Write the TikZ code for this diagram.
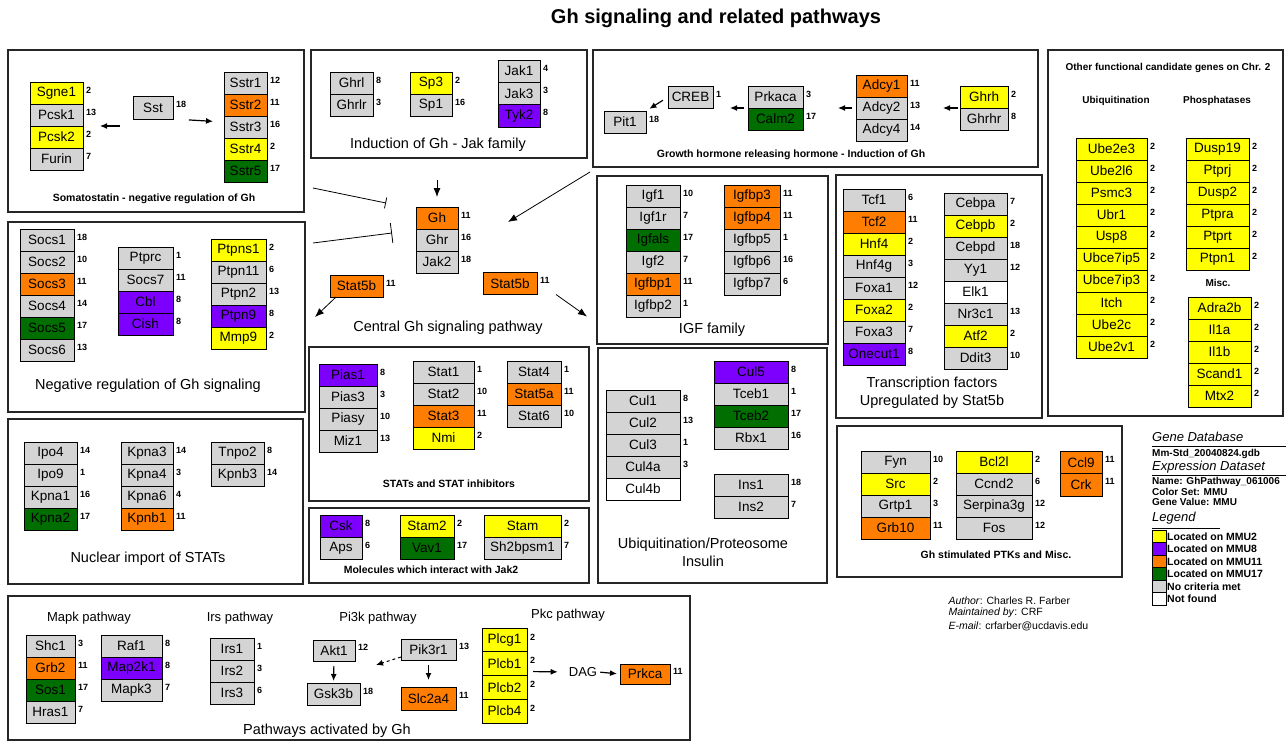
\documentclass[tikz,border=0pt]{standalone}
\usepackage{fontspec}
\setmainfont{Liberation Sans}
\usetikzlibrary{arrows.meta}
\definecolor{cGry}{RGB}{212,212,212}
\definecolor{cYel}{RGB}{255,255,0}
\definecolor{cPur}{RGB}{125,0,255}
\definecolor{cOra}{RGB}{255,125,0}
\definecolor{cGrn}{RGB}{0,110,0}
\definecolor{cWht}{RGB}{255,255,255}
\newcommand{\genestack}[5][22]{%
	\foreach \g/\c/\n [count=\i from 0] in {#5}
		\node[gene=\c, minimum width=#4, minimum height=#1, label={[chr]east:\n}]
			(\g) at (#2, #3+#1/2+#1*\i) {\g};%
}

\begin{document}
\begin{tikzpicture}[x=1pt, y=-1pt,
	gene/.style={draw, fill=#1, line width=0.8pt, inner sep=0pt, outer sep=0pt,
		font=\fontsize{13.5}{14}\selectfont},
	chr/.style={font=\fontsize{9}{10}\selectfont\bfseries, inner sep=1pt, xshift=2pt, yshift=3pt},
	frame/.style={draw=black!85, line width=1.2pt},
	captext/.style={font=\fontsize{14.5}{18}\selectfont},
	scaptext/.style={font=\fontsize{10.5}{12}\selectfont\bfseries},
	hdr/.style={font=\fontsize{10}{11}\selectfont\bfseries},
	lgd/.style={font=\fontsize{10}{10}\selectfont\bfseries, inner sep=1pt, anchor=west},
	arr/.style={-{Latex[length=7pt,width=6pt]}, line width=1.2pt},
	bigarr/.style={-{Latex[length=9pt,width=7pt]}, line width=0.8pt},
	inh/.style={line width=0.8pt}]
	\useasboundingbox (0,0) rectangle (1286,742);
	\node[font=\fontsize{20}{22}\selectfont\bfseries] (title) at (716,18) {Gh signaling and related pathways};

	% somatostatin
	\draw[frame] (8,50) rectangle (304,212);
	\genestack{56.5}{82}{53}{Sgne1/cYel/2, Pcsk1/cGry/13, Pcsk2/cYel/2, Furin/cGry/7}
	\genestack[23]{153}{96}{40}{Sst/cGry/18}
	\genestack{245.5}{72}{43}{Sstr1/cGry/12, Sstr2/cOra/11, Sstr3/cGry/16, Sstr4/cYel/2, Sstr5/cGrn/17}
	\draw[arr, shorten <=13pt, shorten >=17pt] (Sst.west |- Pcsk1.south) -- (Pcsk1.south east);
	\draw[arr, shorten <=16pt, shorten >=11pt] (Sst.south east) -- ([yshift=5pt]Sstr3.west);
	\node[scaptext] (capSom) at (154,199) {Somatostatin - negative regulation of Gh};

	% jak family
	\draw[frame] (311,50) rectangle (587,158);
	\genestack{351.5}{72}{43}{Ghrl/cGry/8, Ghrlr/cGry/3}
	\genestack{431}{72}{42}{Sp3/cYel/2, Sp1/cGry/16}
	\genestack[22.3]{519}{60}{42}{Jak1/cGry/4, Jak3/cGry/3, Tyk2/cPur/8}
	\node[captext] (capJak) at (438,145) {Induction of Gh - Jak family};

	% ghrh
	\draw[frame] (593,50) rectangle (1038,167);
	\genestack{625}{111}{42}{Pit1/cGry/18}
	\genestack{690.5}{86}{45}{CREB/cGry/1}
	\genestack{775.5}{86}{55}{Prkaca/cGry/3, Calm2/cGrn/17}
	\genestack{881.5}{75}{51}{Adcy1/cOra/11, Adcy2/cGry/13, Adcy4/cGry/14}
	\genestack{984}{86}{48}{Ghrh/cYel/2, Ghrhr/cGry/8}
	\draw[arr, shorten <=6pt, shorten >=4pt] (CREB.west) -- (Pit1.north east);
	\draw[arr, shorten <=4pt, shorten >=17pt] (Prkaca.south west) -- (CREB.south east);
	\draw[arr, shorten <=4pt, shorten >=35pt] (Adcy2.west) -- (Prkaca.south east);
	\draw[arr, shorten <=2pt, shorten >=36pt] (Ghrhr.north west) -- (Adcy2.east);
	\node[scaptext] (capGhrh) at (791,155) {Growth hormone releasing hormone - Induction of Gh};

	% chr 2 candidates
	\draw[frame] (1048,50) rectangle (1283,416);
	\node[hdr] (hdrChr) at (1168,68) {Other functional candidate genes on Chr. 2};
	\node[hdr] (hdrUbi) at (1116,101) {Ubiquitination};
	\node[hdr] (hdrPho) at (1217,101) {Phosphatases};
	\node[hdr] (hdrMis) at (1218,283) {Misc.};
	\genestack{1111.5}{138}{71}{Ube2e3/cYel/2, Ube2l6/cYel/2, Psmc3/cYel/2, Ubr1/cYel/2, Usp8/cYel/2,
		Ubce7ip5/cYel/2, Ubce7ip3/cYel/2, Itch/cYel/2, Ube2c/cYel/2, Ube2v1/cYel/2}
	\genestack{1217.5}{138}{63}{Dusp19/cYel/2, Ptprj/cYel/2, Dusp2/cYel/2, Ptpra/cYel/2, Ptprt/cYel/2, Ptpn1/cYel/2}
	\genestack{1219.5}{297}{63}{Adra2b/cYel/2, Il1a/cYel/2, Il1b/cYel/2, Scand1/cYel/2, Mtx2/cYel/2}

	% negative regulation
	\draw[frame] (8,222) rectangle (305,412);
	\genestack{47}{229}{54}{Socs1/cGry/18, Socs2/cGry/10, Socs3/cOra/11, Socs4/cGry/14, Socs5/cGrn/17, Socs6/cGry/13}
	\genestack{145.5}{247}{55}{Ptprc/cGry/1, Socs7/cGry/11, Cbl/cPur/8, Cish/cPur/8}
	\genestack{238.5}{239}{55}{Ptpns1/cYel/2, Ptpn11/cGry/6, Ptpn2/cGry/13, Ptpn9/cPur/8, Mmp9/cYel/2}
	\node[captext] (capNeg) at (148,386) {Negative regulation of Gh signaling};

	% central pathway
	\genestack{437}{207}{42}{Gh/cOra/11, Ghr/cGry/16, Jak2/cGry/18}
	\node[gene=cOra, minimum width=53, minimum height=22, label={[chr]east:11}] (stat5bL) at (356.5,286) {Stat5b};
	\node[gene=cOra, minimum width=54, minimum height=22, label={[chr]east:11}] (stat5bR) at (510,283.5) {Stat5b};
	\coordinate (jakOut) at (437,180);
	\coordinate (somOut) at (313,188);
	\coordinate (negOut) at (313,243);
	\coordinate (ghrhOut) at (590,172);
	\draw[bigarr] (jakOut) -- ([yshift=10pt]Gh.north);
	\draw[inh, -{Bar[width=11pt]}] (somOut) -- ([xshift=-30pt, yshift=15pt]Gh.west);
	\draw[inh, -{Bar[width=20pt]}] (negOut) -- ([xshift=-24pt, yshift=7pt]Ghr.west);
	\draw[bigarr] (ghrhOut) -- ([xshift=50pt, yshift=-4pt]Gh.east);
	\draw[bigarr] ([xshift=6pt]stat5bL.south west) -- ++(-21,20);
	\draw[bigarr] ([xshift=19pt]stat5bR.south east) -- ++(31,22);
	\node[captext] (capCen) at (448,328) {Central Gh signaling pathway};

	% igf family
	\draw[frame] (597,176) rectangle (828,344);
	\genestack{653}{185}{54}{Igf1/cGry/10, Igf1r/cGry/7, Igfals/cGrn/17, Igf2/cGry/7, Igfbp1/cOra/11, Igfbp2/cGry/1}
	\genestack{752}{185}{56}{Igfbp3/cOra/11, Igfbp4/cOra/11, Igfbp5/cGry/1, Igfbp6/cGry/16, Igfbp7/cGry/6}
	\node[captext] (capIgf) at (712,330) {IGF family};

	% transcription factors
	\draw[frame] (836,175) rectangle (1042,418);
	\genestack{874}{189}{62}{Tcf1/cGry/6, Tcf2/cOra/11, Hnf4/cYel/2, Hnf4g/cGry/3, Foxa1/cGry/12, Foxa2/cYel/2, Foxa3/cGry/7, Onecut1/cPur/8}
	\genestack{975.5}{193}{63}{Cebpa/cGry/7, Cebpb/cYel/2, Cebpd/cGry/18, Yy1/cGry/12, Elk1/cWht/, Nr3c1/cGry/13, Atf2/cYel/2, Ddit3/cGry/10}
	\node[captext, align=center] (capTf) at (932,393) {Transcription factors\\Upregulated by Stat5b};

	% stats
	\draw[frame] (309,347) rectangle (589,501);
	\genestack{348}{364}{58}{Pias1/cPur/8, Pias3/cGry/3, Piasy/cGry/10, Miz1/cGry/13}
	\genestack{443.5}{361}{61}{Stat1/cGry/1, Stat2/cGry/10, Stat3/cOra/11, Nmi/cYel/2}
	\genestack{534}{361}{54}{Stat4/cGry/1, Stat5a/cOra/11, Stat6/cGry/10}
	\node[scaptext] (capStat) at (449,484) {STATs and STAT inhibitors};

	% jak2 partners
	\draw[frame] (309,508) rectangle (589,583);
	\genestack{341}{515}{42}{Csk/cPur/8, Aps/cGry/6}
	\genestack{427}{515}{54}{Stam2/cYel/2, Vav1/cGrn/17}
	\genestack{522.5}{515}{77}{Stam/cYel/2, Sh2bpsm1/cGry/7}
	\node[scaptext] (capMol) at (431,570) {Molecules which interact with Jak2};

	% nuclear import
	\draw[frame] (8,419) rectangle (303,584);
	\genestack{50.5}{442}{53}{Ipo4/cGry/14, Ipo9/cGry/1, Kpna1/cGry/16, Kpna2/cGrn/17}
	\genestack{147}{442}{52}{Kpna3/cGry/14, Kpna4/cGry/3, Kpna6/cGry/4, Kpnb1/cOra/11}
	\genestack{237.5}{442}{53}{Tnpo2/cGry/8, Kpnb3/cGry/14}
	\node[captext] (capNuc) at (148,559) {Nuclear import of STATs};

	% ubiquitination
	\draw[frame] (598,348) rectangle (827,583);
	\genestack{643}{390}{74}{Cul1/cGry/8, Cul2/cGry/13, Cul3/cGry/1, Cul4a/cGry/3, Cul4b/cWht/}
	\genestack{751}{361}{74}{Cul5/cPur/8, Tceb1/cGry/1, Tceb2/cGrn/17, Rbx1/cGry/16}
	\genestack{751}{474}{74}{Ins1/cGry/18, Ins2/cGry/7}
	\node[captext, align=center] (capUbi) at (703,552) {Ubiquitination/Proteosome\\Insulin};

	% ptk
	\draw[frame] (837,426) rectangle (1122,577);
	\genestack{895.5}{451}{69}{Fyn/cGry/10, Src/cYel/2, Grtp1/cGry/3, Grb10/cOra/11}
	\genestack{994}{451}{76}{Bcl2l/cYel/2, Ccnd2/cGry/6, Serpina3g/cGry/12, Fos/cGry/12}
	\genestack[22.5]{1081}{451}{42}{Ccl9/cOra/11, Crk/cOra/11}
	\node[scaptext] (capPtk) at (996,555) {Gh stimulated PTKs and Misc.};

	% author
	\node[anchor=west, font=\fontsize{10.5}{12}\selectfont] (auth) at (945,601) {\textit{Author}: Charles R. Farber};
	\node[anchor=west, font=\fontsize{10.5}{12}\selectfont] (maint) at (945,613) {\textit{Maintained by}: CRF};
	\node[anchor=west, font=\fontsize{10.5}{12}\selectfont] (mail) at (945,626) {\textit{E-mail}: crfarber@ucdavis.edu};

	% legend
	\node[anchor=west, inner sep=1pt, font=\fontsize{13}{14}\selectfont\itshape] (gdb) at (1151,437) {Gene Database};
	\draw[line width=0.8pt] (1152,446) -- (1286,446);
	\node[lgd] (gdbName) at (1151,454) {Mm-Std\_20040824.gdb};
	\node[anchor=west, inner sep=1pt, font=\fontsize{13}{14}\selectfont\itshape] (eds) at (1151,467) {Expression Dataset};
	\draw[line width=0.8pt] (1152,475) -- (1286,475);
	\node[lgd] (edsName) at (1151,482) {Name: GhPathway\_061006};
	\node[lgd] (edsSet) at (1151,492) {Color Set: MMU};
	\node[lgd] (edsVal) at (1151,502) {Gene Value: MMU};
	\node[anchor=west, inner sep=1pt, font=\fontsize{13}{14}\selectfont\itshape] (lgdTitle) at (1151,518) {Legend};
	\draw[line width=0.8pt] (1152,528) -- (1220,528);
	\foreach \c/\t [count=\i from 0] in {cYel/Located on MMU2, cPur/Located on MMU8, cOra/Located on MMU11,
		cGrn/Located on MMU17, cGry/No criteria met, cWht/Not found}
	{
		\node[gene=\c, minimum width=14, minimum height=12.5] (sw\i) at (1159,536.25+12.5*\i) {};
		\node[lgd, font=\fontsize{10.5}{11}\selectfont\bfseries] at (sw\i.east) {\t};
	}

	% pathways activated by gh
	\draw[frame] (8,596) rectangle (690,740);
	\node[font=\fontsize{13}{14}\selectfont] (tMapk) at (89,618) {Mapk pathway};
	\node[font=\fontsize{13}{14}\selectfont] (tIrs) at (240,618) {Irs pathway};
	\node[font=\fontsize{13}{14}\selectfont] (tPi3k) at (378,618) {Pi3k pathway};
	\node[font=\fontsize{13}{14}\selectfont] (tPkc) at (568,615) {Pkc pathway};
	\genestack{50.5}{635}{49}{Shc1/cGry/3, Grb2/cOra/11, Sos1/cGrn/17, Hras1/cGry/7}
	\genestack{131.5}{635}{61}{Raf1/cGry/8, Map2k1/cPur/8, Mapk3/cGry/7}
	\genestack{232}{638}{44}{Irs1/cGry/1, Irs2/cGry/3, Irs3/cGry/6}
	\genestack[21]{334}{640}{42}{Akt1/cGry/12}
	\genestack{333.5}{683}{53}{Gsk3b/cGry/18}
	\genestack[21]{428.5}{639}{55}{Pik3r1/cGry/13}
	\genestack[23]{428.5}{687}{55}{Slc2a4/cOra/11}
	\genestack[23.75]{504.5}{628}{45}{Plcg1/cYel/2, Plcb1/cYel/2, Plcb2/cYel/2, Plcb4/cYel/2}
	\node[font=\fontsize{13}{14}\selectfont, inner sep=1pt] (dag) at (583,672) {DAG};
	\genestack[20]{645}{664}{50}{Prkca/cOra/11}
	\draw[arr, shorten <=5pt, shorten >=2pt] (Akt1.south) -- (Gsk3b.north);
	\draw[arr, shorten <=5pt, shorten >=7pt] (Pik3r1.south) -- (Slc2a4.north);
	\draw[arr, dashed, line width=1pt] ([yshift=3pt]Pik3r1.south west) -- ++(-25,8);
	\draw[arr, shorten <=6pt, shorten >=10pt] ([yshift=4pt]Plcb2.north east) -- (dag.west);
	\draw[arr, shorten <=2pt, shorten >=3pt] (dag.east) -- (Prkca.west);
	\node[captext] (capPath) at (327,731) {Pathways activated by Gh};
\end{tikzpicture}
\end{document}
